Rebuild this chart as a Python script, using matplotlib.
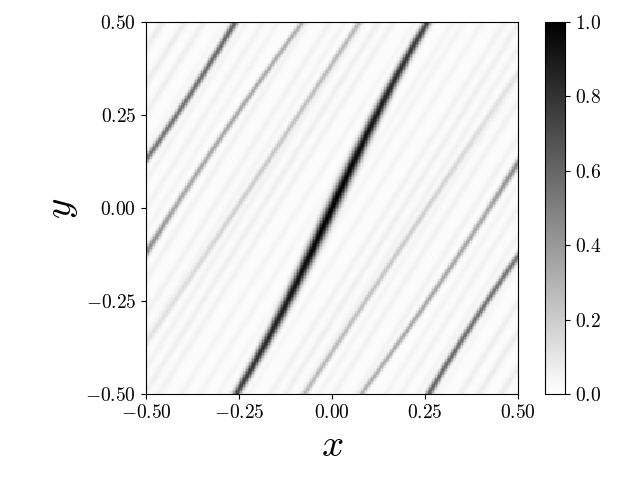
import numpy as np
import matplotlib
matplotlib.use("Agg")
import matplotlib.pyplot as plt

plt.rcParams['mathtext.fontset'] = 'cm'
plt.rcParams['font.family'] = 'serif'

# Ridges; each is (y samples, x centre, peak level, width)
main_y = [-0.5, -0.414, -0.253, -0.116, 0.0, 0.116, 0.25, 0.384, 0.5]
main_x = [-0.255, -0.212, -0.117, -0.054, 0.0, 0.054, 0.115, 0.196, 0.255]
main_peak = [0.72, 0.80, 0.90, 0.97, 1.0, 0.97, 0.90, 0.80, 0.72]
main_width = [0.0080, 0.0090, 0.0105, 0.0115, 0.0120, 0.0115, 0.0105, 0.0090, 0.0080]

r1_y = [0.129, 0.304, 0.5]
r1_x = [-0.5, -0.382, -0.26]
r1_peak = [0.52, 0.55, 0.60]
r1_width = [0.0070, 0.0070, 0.0070]

r2_y = [-0.118, 0.008, 0.269, 0.5]
r2_x = [-0.5, -0.414, -0.247, -0.078]
r2_peak = [0.45, 0.34, 0.34, 0.30]
r2_width = [0.0070, 0.0065, 0.0060, 0.0060]

r3_y = [-0.368, -0.215, 0.008, 0.38, 0.5]
r3_x = [-0.497, -0.41, -0.247, 0.0, 0.07]
r3_peak = [0.08, 0.12, 0.18, 0.26, 0.26]
r3_width = [0.0070, 0.0070, 0.0065, 0.0060, 0.0060]

# Faint parallel stripes: x position where each crosses y = 0, and its level
stripe_c = [-0.82, -0.77, -0.71, -0.66, -0.60, -0.547, -0.50, -0.46, -0.38, -0.32, -0.28,
            -0.23, -0.19, -0.15, -0.09, -0.04, 0.01, 0.04, 0.09, 0.15, 0.19, 0.23,
            0.28, 0.32, 0.38, 0.46, 0.50, 0.547, 0.60, 0.66, 0.71, 0.77, 0.82]
stripe_level = [0.05, 0.06, 0.06, 0.05, 0.03, 0.04, 0.04, 0.03, 0.04, 0.04, 0.03,
                0.04, 0.05, 0.04, 0.03, 0.03, 0.03, 0.03, 0.03, 0.04, 0.05, 0.04,
                0.03, 0.04, 0.04, 0.03, 0.04, 0.04, 0.03, 0.05, 0.06, 0.06, 0.05]
base_level = 0.015
stripe_slope = 0.63
stripe_width = 0.0075

x_ticks = [-0.5, -0.25, 0.0, 0.25, 0.5]
tick_labels = [r'$-0.50$', r'$-0.25$', r'$0.00$', r'$0.25$', r'$0.50$']
cbar_ticks = [0.0, 0.2, 0.4, 0.6, 0.8, 1.0]
cbar_labels = [r'$0.0$', r'$0.2$', r'$0.4$', r'$0.6$', r'$0.8$', r'$1.0$']

n = 256
edges = np.linspace(-0.5, 0.5, n + 1)
centres = 0.5 * (edges[:-1] + edges[1:])
X, Y = np.meshgrid(centres, centres)
background = np.full_like(X, base_level)

for c, lev in zip(stripe_c, stripe_level):
    background += lev * np.exp(-0.5 * ((X - c - stripe_slope * Y) / stripe_width) ** 2)

ridges = np.zeros_like(X)

def add_ridge(ys, xs, peaks, widths, mirror, deg):
    global background, ridges
    ys, xs = np.asarray(ys), np.asarray(xs)
    fit = np.polyfit(ys, xs, deg)          # smooth centre line through the read points
    for s in ([1, -1] if mirror else [1]):
        yy = s * Y
        xc = np.polyval(fit, yy)
        pk = np.interp(yy, ys, peaks)
        w = np.interp(yy, ys, widths)
        mask = np.where(yy < ys[0] - 0.03, 0.0, 1.0)
        d = s * X - xc
        ridges += mask * pk * np.exp(-0.5 * (d / w) ** 2)
        # pale halo beside each ridge
        background *= 1 - mask * np.minimum(1.0, pk * 1.3) * np.exp(-0.5 * (d / (2.4 * w)) ** 2)

add_ridge(main_y, main_x, main_peak, main_width, False, 3)
add_ridge(r1_y, r1_x, r1_peak, r1_width, True, 2)
add_ridge(r2_y, r2_x, r2_peak, r2_width, True, 2)
add_ridge(r3_y, r3_x, r3_peak, r3_width, True, 2)
Z = np.clip(background + ridges, 0, 1)

fig = plt.figure(figsize=(6.4, 4.8), dpi=100)
ax = fig.add_axes([146 / 640, 86 / 480, 372 / 640, 372 / 480])
mesh = ax.pcolormesh(edges, edges, Z, cmap='gray_r', vmin=0, vmax=1,
                     antialiased=True, linewidth=0)
ax.set_aspect('equal')
ax.set_xlim(-0.5, 0.5)
ax.set_ylim(-0.5, 0.5)
ax.set_xticks(x_ticks)
ax.set_xticklabels(tick_labels)
ax.set_yticks(x_ticks)
ax.set_yticklabels(tick_labels)
ax.tick_params(labelsize=14)
ax.set_xlabel(r'$x$', fontsize=28, labelpad=4)
ax.set_ylabel(r'$y$', fontsize=28, labelpad=4)

cax = fig.add_axes([545 / 640, 86 / 480, 20 / 640, 372 / 480])
cb = fig.colorbar(mesh, cax=cax)
cb.set_ticks(cbar_ticks)
cb.set_ticklabels(cbar_labels)
cb.ax.tick_params(labelsize=14)

fig.savefig('out.png', dpi=100)
